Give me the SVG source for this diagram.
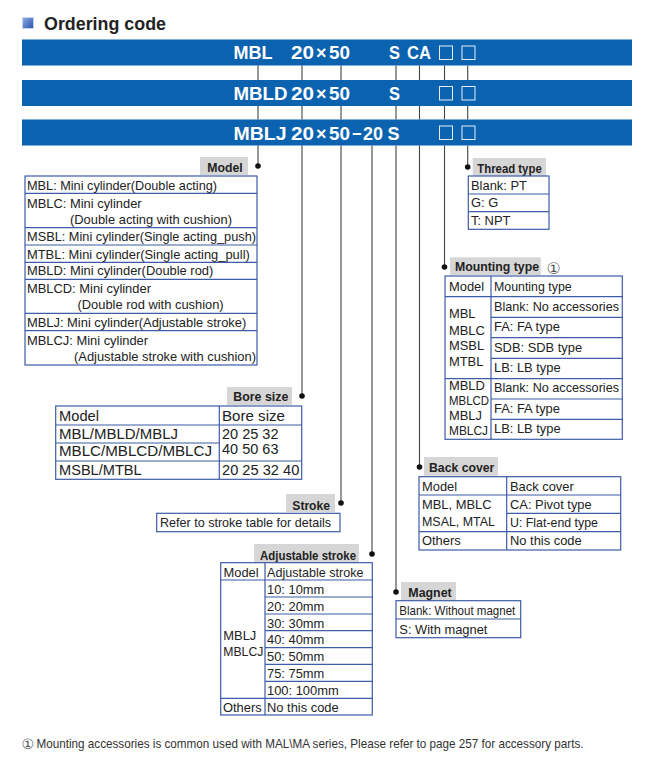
<svg xmlns="http://www.w3.org/2000/svg" width="663" height="772" viewBox="0 0 663 772">
<defs>
<linearGradient id="ig" x1="0" y1="0" x2="1" y2="1"><stop offset="0" stop-color="#8fb0e6"/><stop offset="1" stop-color="#2b4fa8"/></linearGradient>
<style>
.bar{fill:#0b63b0}
.bt{font-family:"Liberation Sans",Arial,sans-serif;font-weight:bold;font-size:18px;fill:#fff}
.bx{fill:none;stroke:#e4edf8;stroke-width:1}
.lbl{fill:#d6d6d6}
.lt{font-family:"Liberation Sans",Arial,sans-serif;font-weight:bold;font-size:13.2px;fill:#222}
.tb{fill:none;stroke:#3d5ba8;stroke-width:1.2}
.tl{stroke:#3d5ba8;stroke-width:1.2}
.tx{font-family:"Liberation Sans",Arial,sans-serif;font-size:12.9px;fill:#222}
.bs{font-family:"Liberation Sans",Arial,sans-serif;font-size:14.5px;fill:#222}
.con{stroke:#444;stroke-width:1.1;fill:none}
.dot{fill:#111}
.ci{font-family:"DejaVu Sans","Noto Sans CJK SC",sans-serif;fill:#555}
</style>
</defs>
<rect width="663" height="772" fill="#fff"/>

<g id="title">
<rect x="22.5" y="17.5" width="11" height="11" fill="url(#ig)" stroke="#c8d4ee" stroke-width="1"/>
<text x="44" y="30" font-family="Liberation Sans,Arial,sans-serif" font-weight="bold" font-size="17.5" fill="#222" textLength="122" lengthAdjust="spacingAndGlyphs">Ordering code</text>
</g>

<g id="code-rows">
<rect class="bar" x="22" y="39.5" width="610" height="26"/>
<rect class="bar" x="22" y="80" width="610" height="26"/>
<rect class="bar" x="22" y="119.5" width="610" height="26"/>
<text class="bt" x="233.5" y="59" textLength="39" lengthAdjust="spacingAndGlyphs">MBL</text>
<text class="bt" x="291" y="59" textLength="23" lengthAdjust="spacingAndGlyphs">20</text>
<text class="bt" x="316" y="59" font-size="14">×</text>
<text class="bt" x="329" y="59" textLength="21" lengthAdjust="spacingAndGlyphs">50</text>
<text class="bt" x="389" y="59" textLength="11" lengthAdjust="spacingAndGlyphs">S</text>
<text class="bt" x="407" y="59" textLength="24" lengthAdjust="spacingAndGlyphs">CA</text>
<rect class="bx" x="439.5" y="46" width="13" height="13.5"/>
<rect class="bx" x="462" y="46" width="13" height="13.5"/>

<text class="bt" x="233.5" y="100" textLength="54" lengthAdjust="spacingAndGlyphs">MBLD</text>
<text class="bt" x="291" y="100" textLength="23" lengthAdjust="spacingAndGlyphs">20</text>
<text class="bt" x="316" y="100" font-size="14">×</text>
<text class="bt" x="329" y="100" textLength="21" lengthAdjust="spacingAndGlyphs">50</text>
<text class="bt" x="389" y="100" textLength="11" lengthAdjust="spacingAndGlyphs">S</text>
<rect class="bx" x="439.5" y="86.5" width="13" height="13.5"/>
<rect class="bx" x="462" y="86.5" width="13" height="13.5"/>

<text class="bt" x="233.5" y="139.5" textLength="53" lengthAdjust="spacingAndGlyphs">MBLJ</text>
<text class="bt" x="291" y="139.5" textLength="23" lengthAdjust="spacingAndGlyphs">20</text>
<text class="bt" x="316" y="139.5" font-size="14">×</text>
<text class="bt" x="329" y="139.5" textLength="21" lengthAdjust="spacingAndGlyphs">50</text>
<text class="bt" x="352" y="139.5" textLength="9.5" lengthAdjust="spacingAndGlyphs">−</text>
<text class="bt" x="363" y="139.5" textLength="20" lengthAdjust="spacingAndGlyphs">20</text>
<text class="bt" x="387.5" y="139.5" textLength="12" lengthAdjust="spacingAndGlyphs">S</text>
<rect class="bx" x="439.5" y="126" width="13" height="13.5"/>
<rect class="bx" x="462" y="126" width="13" height="13.5"/>
</g>

<g id="connectors">
<path class="con" d="M258,65.5V80M302,65.5V80M341,65.5V80M396,65.5V80M419.5,65.5V80M444.5,65.5V80M467.7,65.5V80"/>
<path class="con" d="M258,106V119.5M302,106V119.5M341,106V119.5M396,106V119.5M419.5,106V119.5M444.5,106V119.5M467.7,106V119.5"/>
<path class="con" d="M258,145.5V166M302,145.5V396M341,145.5V503M372,145.5V554M396,145.5V592M419.5,145.5V467M444.5,145.5V267M467.7,145.5V167"/>
<circle class="dot" cx="258" cy="166" r="2.8"/>
<circle class="dot" cx="302" cy="396" r="2.8"/>
<circle class="dot" cx="341" cy="503" r="2.8"/>
<circle class="dot" cx="372" cy="554" r="2.8"/>
<circle class="dot" cx="396" cy="592" r="2.8"/>
<circle class="dot" cx="419.5" cy="467" r="2.8"/>
<circle class="dot" cx="444.5" cy="267" r="2.8"/>
<circle class="dot" cx="467.7" cy="167" r="2.8"/>
</g>

<g id="model">
<rect class="lbl" x="200" y="157" width="48" height="18"/>
<text class="lt" x="207.3" y="171.5" textLength="35.4" lengthAdjust="spacingAndGlyphs">Model</text>
<rect class="tb" x="25" y="176" width="232" height="189"/>
<path class="tl" d="M25,193.3H257M25,227.7H257M25,245H257M25,262.3H257M25,279.3H257M25,313.3H257M25,330.7H257"/>
<text class="tx" x="27" y="189.5" textLength="190" lengthAdjust="spacingAndGlyphs">MBL: Mini cylinder(Double acting)</text>
<text class="tx" x="27" y="208">MBLC: Mini cylinder</text>
<text class="tx" x="70" y="223.5">(Double acting with cushion)</text>
<text class="tx" x="27" y="241" textLength="229" lengthAdjust="spacingAndGlyphs">MSBL: Mini cylinder(Single acting_push)</text>
<text class="tx" x="27" y="258.5">MTBL: Mini cylinder(Single acting_pull)</text>
<text class="tx" x="27" y="275">MBLD: Mini cylinder(Double rod)</text>
<text class="tx" x="27" y="293">MBLCD: Mini cylinder</text>
<text class="tx" x="77.5" y="308.5">(Double rod with cushion)</text>
<text class="tx" x="27" y="327">MBLJ: Mini cylinder(Adjustable stroke)</text>
<text class="tx" x="27" y="344.5">MBLCJ: Mini cylinder</text>
<text class="tx" x="74" y="361">(Adjustable stroke with cushion)</text>
</g>

<g id="thread-type">
<rect class="lbl" x="472.7" y="158" width="73.3" height="18"/>
<text class="lt" x="477.3" y="172.5" textLength="64.4" lengthAdjust="spacingAndGlyphs">Thread type</text>
<rect class="tb" x="468.3" y="176" width="80.7" height="53.3"/>
<path class="tl" d="M468.3,194H549M468.3,211.7H549"/>
<text class="tx" x="471" y="189.5">Blank: PT</text>
<text class="tx" x="471" y="207">G: G</text>
<text class="tx" x="471" y="225">T: NPT</text>
</g>

<g id="mounting-type">
<rect class="lbl" x="450" y="257.3" width="90.7" height="17.7"/>
<text class="lt" x="455" y="270.5" textLength="84" lengthAdjust="spacingAndGlyphs">Mounting type</text>
<text class="ci" x="546.5" y="274" font-size="16">①</text>
<rect class="tb" x="445" y="276" width="177.3" height="163.3"/>
<path class="tl" d="M491,276V439.3M445,296.7H622.3M445,378.7H622.3M491,317.3H622.3M491,337.7H622.3M491,358.3H622.3M491,399H622.3M491,419.3H622.3"/>
<text class="tx" x="449" y="291">Model</text>
<text class="tx" x="494" y="291" textLength="77.7" lengthAdjust="spacingAndGlyphs">Mounting type</text>
<text class="tx" x="494" y="311" textLength="125" lengthAdjust="spacingAndGlyphs">Blank: No accessories</text>
<text class="tx" x="494" y="331">FA: FA type</text>
<text class="tx" x="494" y="352">SDB: SDB type</text>
<text class="tx" x="494" y="372">LB: LB type</text>
<text class="tx" x="494" y="392" textLength="125" lengthAdjust="spacingAndGlyphs">Blank: No accessories</text>
<text class="tx" x="494" y="413">FA: FA type</text>
<text class="tx" x="494" y="433">LB: LB type</text>
<text class="tx" x="449" y="318">MBL</text>
<text class="tx" x="449" y="334.5">MBLC</text>
<text class="tx" x="449" y="349.5">MSBL</text>
<text class="tx" x="449" y="366">MTBL</text>
<text class="tx" x="449" y="390">MBLD</text>
<text class="tx" x="449" y="404.5" textLength="40" lengthAdjust="spacingAndGlyphs">MBLCD</text>
<text class="tx" x="449" y="419.5">MBLJ</text>
<text class="tx" x="449" y="434.5" textLength="39" lengthAdjust="spacingAndGlyphs">MBLCJ</text>
</g>

<g id="bore-size">
<rect class="lbl" x="227" y="387" width="65" height="18"/>
<text class="lt" x="233.3" y="401" textLength="55" lengthAdjust="spacingAndGlyphs">Bore size</text>
<rect class="tb" x="55.7" y="406" width="246" height="73.3"/>
<path class="tl" d="M219.3,406V479.3M55.7,425H301.7M55.7,461H301.7M55.7,443H219.3"/>
<text class="bs" x="59" y="420.5" textLength="40" lengthAdjust="spacingAndGlyphs">Model</text>
<text class="bs" x="222" y="420.5" textLength="63" lengthAdjust="spacingAndGlyphs">Bore size</text>
<text class="bs" x="59" y="438.5" textLength="119" lengthAdjust="spacingAndGlyphs">MBL/MBLD/MBLJ</text>
<text class="bs" x="59" y="456" textLength="153" lengthAdjust="spacingAndGlyphs">MBLC/MBLCD/MBLCJ</text>
<text class="bs" x="59" y="475" textLength="82.7" lengthAdjust="spacingAndGlyphs">MSBL/MTBL</text>
<text class="bs" x="222" y="438.5" textLength="56.5" lengthAdjust="spacingAndGlyphs">20 25 32</text>
<text class="bs" x="222" y="454" textLength="56.5" lengthAdjust="spacingAndGlyphs">40 50 63</text>
<text class="bs" x="222" y="475" textLength="77.3" lengthAdjust="spacingAndGlyphs">20 25 32 40</text>
</g>

<g id="stroke">
<rect class="lbl" x="286" y="494" width="49" height="18"/>
<text class="lt" x="292.3" y="509.5" textLength="37.7" lengthAdjust="spacingAndGlyphs">Stroke</text>
<rect class="tb" x="156.7" y="513.3" width="183.3" height="18.4"/>
<text class="tx" x="160" y="527" textLength="171" lengthAdjust="spacingAndGlyphs">Refer to stroke table for details</text>
</g>

<g id="adjustable-stroke">
<rect class="lbl" x="254" y="544" width="105" height="18.7"/>
<text class="lt" x="260" y="559.5" textLength="96" lengthAdjust="spacingAndGlyphs">Adjustable stroke</text>
<rect class="tb" x="220.7" y="562.7" width="151.6" height="152.3"/>
<path class="tl" d="M265,562.7V715M220.7,580H372.3M220.7,698.3H372.3M265,597H372.3M265,614H372.3M265,630.7H372.3M265,647.7H372.3M265,664.3H372.3M265,681.3H372.3"/>
<text class="tx" x="223.5" y="576.5">Model</text>
<text class="tx" x="267" y="576.5" textLength="96.5" lengthAdjust="spacingAndGlyphs">Adjustable stroke</text>
<text class="tx" x="267" y="593.5">10: 10mm</text>
<text class="tx" x="267" y="610.5">20: 20mm</text>
<text class="tx" x="267" y="627.5">30: 30mm</text>
<text class="tx" x="267" y="644">40: 40mm</text>
<text class="tx" x="267" y="661">50: 50mm</text>
<text class="tx" x="267" y="677.5">75: 75mm</text>
<text class="tx" x="267" y="694.5">100: 100mm</text>
<text class="tx" x="223.3" y="640">MBLJ</text>
<text class="tx" x="223.3" y="656" textLength="40" lengthAdjust="spacingAndGlyphs">MBLCJ</text>
<text class="tx" x="223" y="711.5">Others</text>
<text class="tx" x="267" y="711.5">No this code</text>
</g>

<g id="back-cover">
<rect class="lbl" x="424" y="457" width="74" height="18.7"/>
<text class="lt" x="429" y="472" textLength="65.3" lengthAdjust="spacingAndGlyphs">Back cover</text>
<rect class="tb" x="419" y="476.7" width="201.7" height="73.3"/>
<path class="tl" d="M506.7,476.7V550M419,495H620.7M419,531.7H620.7M506.7,513.3H620.7"/>
<text class="tx" x="422" y="490.5">Model</text>
<text class="tx" x="510" y="490.5">Back cover</text>
<text class="tx" x="422" y="509">MBL, MBLC</text>
<text class="tx" x="422" y="526" textLength="73" lengthAdjust="spacingAndGlyphs">MSAL, MTAL</text>
<text class="tx" x="510" y="509">CA: Pivot type</text>
<text class="tx" x="510" y="527" textLength="88" lengthAdjust="spacingAndGlyphs">U: Flat-end type</text>
<text class="tx" x="422" y="545">Others</text>
<text class="tx" x="510" y="545">No this code</text>
</g>

<g id="magnet">
<rect class="lbl" x="401" y="582" width="55" height="18.7"/>
<text class="lt" x="408.3" y="597" textLength="43.4" lengthAdjust="spacingAndGlyphs">Magnet</text>
<rect class="tb" x="396" y="600.7" width="124.7" height="37"/>
<path class="tl" d="M396,619H520.7"/>
<text class="tx" x="399.3" y="615" textLength="116" lengthAdjust="spacingAndGlyphs">Blank: Without magnet</text>
<text class="tx" x="399.3" y="633.5">S: With magnet</text>
</g>

<g id="footnote">
<text class="ci" x="21.5" y="748.5" font-size="14">①</text>
<text x="36.5" y="748" font-family="Liberation Sans,Arial,sans-serif" font-size="13" fill="#333" textLength="547" lengthAdjust="spacingAndGlyphs">Mounting accessories is common used with MAL\MA series, Please refer to page 257 for accessory parts.</text>
</g>
</svg>
